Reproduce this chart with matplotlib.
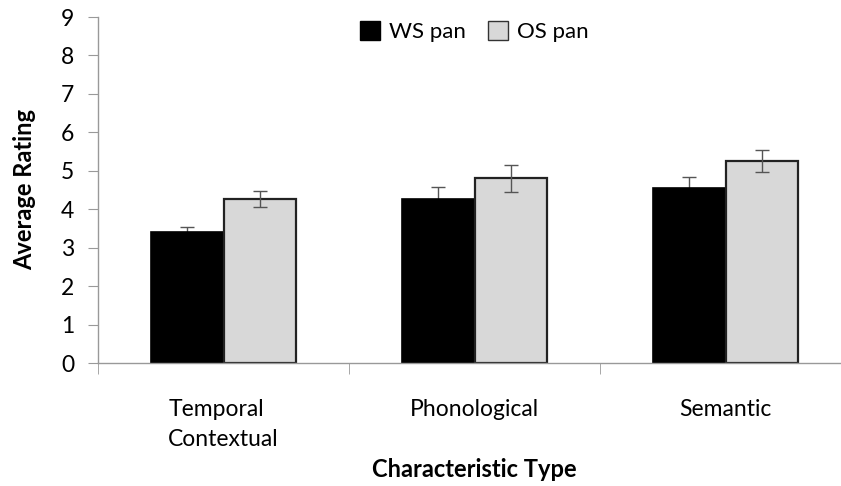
import matplotlib
matplotlib.use("Agg")
import matplotlib.pyplot as plt
import numpy as np
from matplotlib.patches import Patch

categories = ["Temporal\nContextual", "Phonological", "Semantic"]
series_names = ["WS pan", "OS pan"]
ws_values = [3.42, 4.27, 4.55]
os_values = [4.27, 4.80, 5.25]
ws_err = [0.11, 0.32, 0.28]
os_err = [0.21, 0.36, 0.29]
yticks = list(range(0, 10))

plt.rcParams['font.family'] = ['Lato', 'DejaVu Sans']

fig = plt.figure(figsize=(8.41, 4.86), dpi=100)
ax = fig.add_axes([98/841, (486-363)/486, (851-98)/841, (363-17)/486])

x = np.arange(len(categories))
w = 0.289
err_kw = dict(ecolor='#555555', elinewidth=1.0, capsize=5, capthick=1.0)
ax.bar(x - w/2, ws_values, w, color='black', edgecolor='black', linewidth=1.2, zorder=2)
ax.errorbar(x - w/2, ws_values, yerr=ws_err, fmt='none', zorder=1, **err_kw)
ax.bar(x + w/2, os_values, w, color='#d8d8d8', edgecolor='#222222', linewidth=1.6, zorder=2)
ax.errorbar(x + w/2, os_values, yerr=os_err, fmt='none', zorder=3, **err_kw)

ax.set_xlim(-0.5, 2.5)
ax.set_ylim(0, 9)
ax.set_yticks(yticks)
ax.set_xticks(x)
ax.set_xticklabels(categories, fontsize=16.5, linespacing=1.5)
ax.set_xticks([-0.5, 0.5, 1.5, 2.5], minor=True)
ax.tick_params(axis='x', which='major', length=0, pad=26)
ax.tick_params(axis='x', which='minor', length=8, direction='out', color='#999999')
ax.tick_params(axis='y', length=7, direction='out', color='#999999', labelsize=16.5, pad=10)
for lbl in ax.get_xticklabels():
    lbl.set_multialignment('left')

for s in ['top', 'right']:
    ax.spines[s].set_visible(False)
for s in ['left', 'bottom']:
    ax.spines[s].set_color('#999999')
    ax.spines[s].set_linewidth(1.0)

ax.set_ylabel("Average Rating", fontsize=17, fontweight='bold')
ax.yaxis.set_label_coords(-0.082, 0.5)
ax.set_xlabel("Characteristic Type", fontsize=17, fontweight='bold', labelpad=6)

handles = [Patch(facecolor='black', edgecolor='black', label=series_names[0]),
           Patch(facecolor='#d8d8d8', edgecolor='#333333', label=series_names[1])]
ax.legend(handles=handles, loc='upper center', bbox_to_anchor=(0.5, 1.045), ncol=2,
          frameon=False, fontsize=16, handlelength=0.9, handleheight=0.9,
          handletextpad=0.4, columnspacing=1.0)

fig.savefig("out.png", dpi=100)
